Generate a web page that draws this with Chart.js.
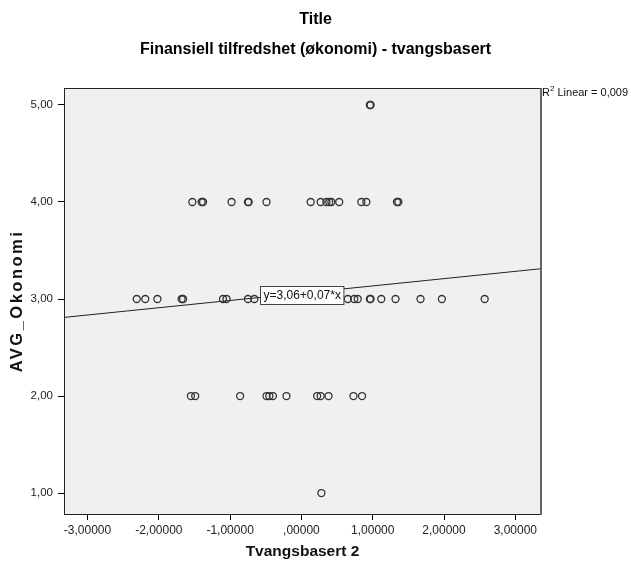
<!DOCTYPE html>
<html><head><meta charset="utf-8">
<script src="https://cdn.jsdelivr.net/npm/chart.js@4/dist/chart.umd.min.js"></script>
<style>html,body{margin:0;padding:0;background:#fff}#wrap{width:631px;height:564px}</style>
</head><body><div id="wrap"><canvas id="c" width="631" height="564"></canvas></div>
<script>
// Data
const tvangsbasert = [
  0.96, 0.97,
  -1.53, -1.40, -1.38, -0.98, -0.75, -0.74, -0.49, 0.13, 0.27, 0.35, 0.39, 0.42, 0.53, 0.84, 0.91, 1.34, 1.36,
  -2.31, -2.19, -2.02, -1.68, -1.66, -1.10, -1.05, -0.75, -0.66, 0.65, 0.74, 0.79, 0.96, 0.97, 1.12, 1.32, 1.67, 1.97, 2.57,
  -1.55, -1.49, -0.86, -0.49, -0.45, -0.40, -0.21, 0.22, 0.27, 0.38, 0.73, 0.85,
  0.28
];
const avgOkonomi = [
  5, 5,
  4, 4, 4, 4, 4, 4, 4, 4, 4, 4, 4, 4, 4, 4, 4, 4, 4,
  3, 3, 3, 3, 3, 3, 3, 3, 3, 3, 3, 3, 3, 3, 3, 3, 3, 3, 3,
  2, 2, 2, 2, 2, 2, 2, 2, 2, 2, 2, 2,
  1
];
const xTickValues = [-3, -2, -1, 0, 1, 2, 3];
const xTickLabels = ['-3,00000', '-2,00000', '-1,00000', ',00000', '1,00000', '2,00000', '3,00000'];
const yTickValues = [1, 2, 3, 4, 5];
const yTickLabels = ['1,00', '2,00', '3,00', '4,00', '5,00'];
const xRange = [-3.33, 3.36];
const yRange = [0.784, 5.175];
const fitIntercept = 3.06;
const fitSlope = 0.075;
const fitLabel = 'y=3,06+0,07*x';
const r2Label = ' Linear = 0,009';
const titleText = 'Title';
const subtitleText = 'Finansiell tilfredshet (økonomi) - tvangsbasert';
const xTitle = 'Tvangsbasert 2';
const yTitle = 'AVG_Okonomi';

const FONT = "'Liberation Sans', Arial, sans-serif";
const points = tvangsbasert.map((x, i) => ({x: x, y: avgOkonomi[i]}));
const fitLine = xRange.map(x => ({x: x, y: fitIntercept + fitSlope * x}));

const bgPlugin = {
  id: 'bgPlugin',
  beforeDraw(chart) {
    const {ctx, chartArea: a} = chart;
    ctx.save();
    ctx.fillStyle = '#f0f0f0';
    ctx.fillRect(a.left, a.top, a.right - a.left, a.bottom - a.top);
    ctx.restore();
  },
  afterDraw(chart) {
    const {ctx, chartArea: a, scales} = chart;
    ctx.save();
    // frame
    ctx.strokeStyle = '#222';
    ctx.lineWidth = 1;
    ctx.beginPath();
    ctx.moveTo(a.left + 0.5, a.bottom + 0.5);
    ctx.lineTo(a.left + 0.5, a.top + 0.5);
    ctx.lineTo(a.right, a.top + 0.5);
    ctx.moveTo(a.left, a.bottom + 0.5);
    ctx.lineTo(a.right, a.bottom + 0.5);
    ctx.stroke();
    ctx.strokeStyle = '#666';
    ctx.lineWidth = 2;
    ctx.beginPath();
    ctx.moveTo(a.right, a.top);
    ctx.lineTo(a.right, a.bottom + 1);
    ctx.stroke();
    // fit label box
    ctx.font = '12px ' + FONT;
    const tw = ctx.measureText(fitLabel).width;
    const cx = scales.x.getPixelForValue(0.01);
    const cy = scales.y.getPixelForValue(3.04);
    const bw = tw + 6, bh = 18;
    const bx = Math.round(cx - bw / 2) + 0.5, by = Math.round(cy - bh / 2) + 0.5;
    ctx.fillStyle = '#fff';
    ctx.fillRect(bx, by, bw, bh);
    ctx.strokeStyle = '#444';
    ctx.lineWidth = 1;
    ctx.strokeRect(bx, by, bw, bh);
    ctx.fillStyle = '#111';
    ctx.textBaseline = 'middle';
    ctx.textAlign = 'left';
    ctx.fillText(fitLabel, bx + 3, by + bh / 2 + 0.5);
    // R2 text
    const rx = a.right + 1, ry = a.top + 5;
    ctx.font = '11px ' + FONT;
    ctx.fillText('R', rx, ry);
    const rw = ctx.measureText('R').width;
    ctx.font = '8px ' + FONT;
    ctx.fillText('2', rx + rw, ry - 4);
    const sw = ctx.measureText('2').width;
    ctx.font = '11px ' + FONT;
    ctx.fillText(r2Label, rx + rw + sw, ry);
    ctx.restore();
  }
};

function spacedTitle(s, spacing) {
  if (s._spacedWrapped) return;
  const orig = s.drawTitle.bind(s);
  s.drawTitle = function () {
    const ctx = this.ctx;
    ctx.save();
    ctx.letterSpacing = spacing;
    orig();
    ctx.restore();
  };
  s._spacedWrapped = true;
}

new Chart(document.getElementById('c'), {
  type: 'scatter',
  data: {
    datasets: [
      {
        type: 'line',
        data: fitLine,
        borderColor: '#222',
        borderWidth: 1,
        pointRadius: 0,
        fill: false,
        order: 2
      },
      {
        data: points,
        pointStyle: 'circle',
        pointRadius: 3.5,
        borderWidth: 1.3,
        borderColor: '#333',
        backgroundColor: 'rgba(0,0,0,0)',
        order: 1
      }
    ]
  },
  plugins: [bgPlugin],
  options: {
    responsive: false,
    animation: false,
    events: [],
    layout: {padding: 0},
    plugins: {
      legend: {display: false},
      tooltip: {enabled: false},
      title: {
        display: true,
        text: titleText,
        color: '#000',
        font: {family: FONT, size: 16, weight: 'bold'},
        padding: {top: 10, bottom: 6}
      },
      subtitle: {
        display: true,
        text: subtitleText,
        color: '#000',
        font: {family: FONT, size: 16, weight: 'bold'},
        padding: {top: 4.4, bottom: 29.2}
      }
    },
    scales: {
      x: {
        type: 'linear',
        position: 'bottom',
        min: xRange[0],
        max: xRange[1],
        afterBuildTicks: s => { s.ticks = xTickValues.map(v => ({value: v})); },
        afterFit: s => { s.height = 50; },
        grid: {drawOnChartArea: false, drawTicks: true, tickLength: 6, color: '#000'},
        border: {display: true, color: '#000'},
        ticks: {
          autoSkip: false, maxRotation: 0, padding: 3, color: '#222',
          font: {family: FONT, size: 12},
          callback: v => xTickLabels[xTickValues.indexOf(v)]
        },
        title: {
          display: true, text: xTitle, color: '#111',
          font: {family: FONT, size: 15.5, weight: 'bold'},
          padding: {top: 0, bottom: 3}
        }
      },
      y: {
        type: 'linear',
        position: 'left',
        min: yRange[0],
        max: yRange[1],
        afterBuildTicks: s => { s.ticks = yTickValues.map(v => ({value: v})); },
        afterFit: s => { s.width = 64; spacedTitle(s, '2.5px'); },
        grid: {drawOnChartArea: false, drawTicks: true, tickLength: 6, color: '#000'},
        border: {display: true, color: '#000'},
        ticks: {
          autoSkip: false, padding: 5, color: '#222',
          font: {family: FONT, size: 11.5},
          callback: v => yTickLabels[yTickValues.indexOf(v)]
        },
        title: {
          display: true, text: yTitle, color: '#111',
          font: {family: FONT, size: 16.5, weight: 'bold'},
          padding: {top: 8, bottom: 0}
        }
      },
      yRight: {
        type: 'linear',
        position: 'right',
        display: true,
        grid: {display: false},
        border: {display: false},
        ticks: {display: false},
        afterFit: s => { s.width = 90; }
      }
    }
  }
});
</script>
</body></html>
